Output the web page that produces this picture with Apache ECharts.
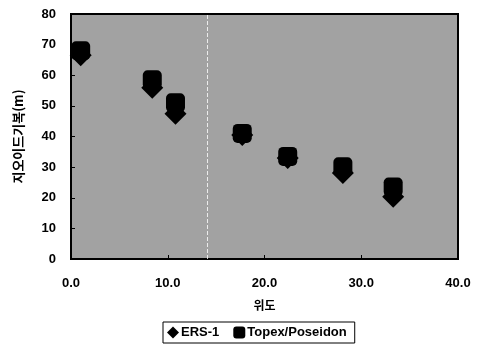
<!DOCTYPE html>
<html>
<head>
<meta charset="utf-8">
<script src="https://cdn.jsdelivr.net/npm/echarts@6/dist/echarts.min.js"></script>
<style>
  html, body { margin: 0; padding: 0; background: #fff; }
  #chart { width: 490px; height: 349px; }
</style>
</head>
<body>
<div id="chart"></div>
<script>
const latitude = [1.0, 8.4, 10.8, 17.7, 22.4, 28.1, 33.3]
const ers1 = [66.5, 55.9, 47.4, 40.5, 33.0, 28.1, 20.3]
const topex = [68.0, 58.5, 51.0, 41.0, 33.5, 30.1, 23.5]
const xTicks = [0, 10, 20, 30, 40]
const yTicks = [0, 10, 20, 30, 40, 50, 60, 70, 80]

const FONT = '"Liberation Sans", Arial, sans-serif'
const KFONT = '"Noto Sans CJK KR", sans-serif'

const pairs = (xs, ys) => xs.map((x, i) => [x, ys[i]])

const chart = echarts.init(document.getElementById('chart'))
chart.setOption({
  animation: false,
  backgroundColor: '#fff',
  grid: {
    left: 71, top: 14, width: 387, height: 245,
    show: true,
    backgroundColor: '#a2a2a2',
    borderColor: '#000',
    borderWidth: 2,
  },
  xAxis: {
    type: 'value',
    min: xTicks[0],
    max: xTicks[xTicks.length - 1],
    interval: 10,
    name: '위도',
    nameLocation: 'middle',
    nameGap: 40,
    nameTextStyle: { fontFamily: KFONT, fontSize: 12, color: '#000', fontWeight: 'bold' },
    axisLine: { show: false },
    axisTick: { show: true, inside: true, length: 4, lineStyle: { color: '#000' } },
    splitLine: { show: false },
    axisLabel: {
      fontFamily: FONT, fontSize: 13, color: '#000', fontWeight: 'bold', margin: 18,
      formatter: v => v.toFixed(1),
    },
  },
  yAxis: {
    type: 'value',
    min: yTicks[0],
    max: yTicks[yTicks.length - 1],
    interval: 10,
    name: '지오이드기복(m)',
    nameLocation: 'middle',
    nameGap: 46,
    nameTextStyle: { fontFamily: KFONT, fontSize: 13, color: '#000', fontWeight: 'bold' },
    axisLine: { show: false },
    axisTick: { show: true, inside: true, length: 4, lineStyle: { color: '#000' } },
    splitLine: { show: false },
    axisLabel: { fontFamily: FONT, fontSize: 13, color: '#000', fontWeight: 'bold', margin: 15 },
  },
  legend: {
    top: 322,
    left: 163,
    data: ['ERS-1', 'Topex/Poseidon'],
    borderColor: '#000',
    borderWidth: 1,
    borderRadius: 0,
    padding: [4, 8, 4, 4],
    itemGap: 14,
    itemWidth: 12,
    itemHeight: 12,
    textStyle: { fontFamily: FONT, fontSize: 13, color: '#000', fontWeight: 'bold', padding: [0, 0, 0, -3] },
  },
  series: [
    {
      name: 'ERS-1',
      type: 'scatter',
      symbol: 'diamond',
      symbolSize: [22, 22],
      itemStyle: { color: '#000', opacity: 1 },
      data: pairs(latitude, ers1),
      markLine: {
        silent: true,
        symbol: 'none',
        label: { show: false },
        lineStyle: { color: '#fff', type: 'dashed', width: 1, opacity: 0.8 },
        data: [{ xAxis: 14.05 }],
      },
    },
    {
      name: 'Topex/Poseidon',
      type: 'scatter',
      symbol: 'roundRect',
      symbolSize: 19,
      itemStyle: { color: '#000', opacity: 1 },
      data: pairs(latitude, topex),
    },
  ],
})
</script>
</body>
</html>
